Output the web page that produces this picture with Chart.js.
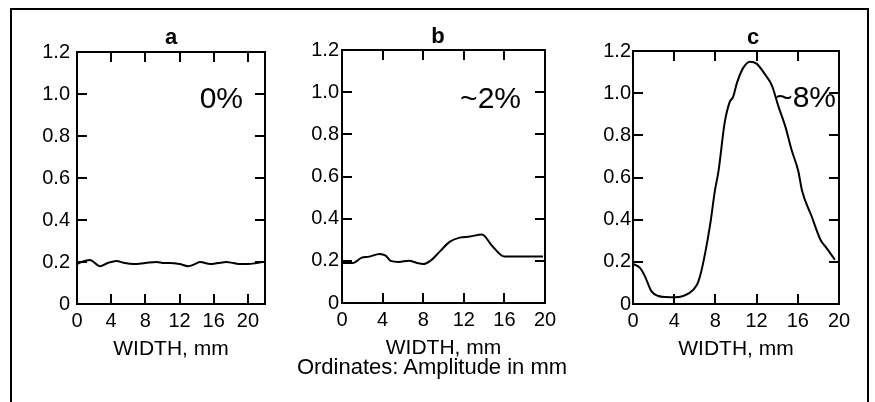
<!DOCTYPE html>
<html>
<head>
<meta charset="utf-8">
<script src="https://cdn.jsdelivr.net/npm/chart.js@4.4.1/dist/chart.umd.min.js"></script>
<style>
  html, body { margin: 0; padding: 0; background: #fff; }
  #wrap { position: relative; width: 875px; height: 402px; overflow: hidden; background: #fff; font-family: "Liberation Sans", Arial, sans-serif; color: #000; }
  canvas { position: absolute; left: 0; top: 0; }
  #frame { position: absolute; left: 10px; top: 8px; width: 855px; height: 420px; border: 2px solid #000; border-bottom: none; }
  .t { position: absolute; line-height: 1; white-space: nowrap; }
  .lbl { font-weight: bold; font-size: 22px; transform: translate(-50%, -50%); }
  .pct { font-size: 30px; transform: translate(-100%, -50%); }
</style>
</head>
<body>
<div id="wrap">
  <div id="frame"></div>
  <canvas id="ca" width="875" height="402"></canvas>
  <canvas id="cb" width="875" height="402"></canvas>
  <canvas id="cc" width="875" height="402"></canvas>
  <div class="t lbl" style="left:171px; top:37px;">a</div>
  <div class="t lbl" style="left:438px; top:36px;">b</div>
  <div class="t lbl" style="left:753px; top:37px;">c</div>
  <div class="t pct" style="left:243px; top:98px;">0%</div>
  <div class="t pct" style="left:521px; top:98px;">~2%</div>
  <div class="t pct" style="left:836px; top:97px;">~8%</div>
  <div class="t" style="left:432px; top:367px; font-size:22px; transform: translate(-50%, -50%);">Ordinates: Amplitude in mm</div>
</div>
<script>
// ---- data ----
const panelLabels = ['a', 'b', 'c'];
const percentLabels = ['0%', '~2%', '~8%'];
const xTitle = 'WIDTH, mm';
const yTickValues = [0, 0.2, 0.4, 0.6, 0.8, 1.0, 1.2];
const xTickValues = [0, 4, 8, 12, 16, 20];

// panel a (0%)
const aWidth = [0, 0.5, 1.5, 2.7, 3.6, 4.6, 5.6, 6.6, 8.0, 9.3, 10.2, 10.9, 12.0, 13.0, 13.8, 14.4, 15.6, 16.5, 17.5, 18.3, 19.1, 20.0, 21.0, 21.7];
const aAmp   = [0.19, 0.2, 0.21, 0.18, 0.195, 0.205, 0.195, 0.19, 0.195, 0.2, 0.195, 0.195, 0.19, 0.18, 0.19, 0.2, 0.19, 0.195, 0.2, 0.195, 0.19, 0.19, 0.195, 0.2];

// panel b (~2%)
const bWidth = [0, 1.1, 1.9, 2.7, 3.7, 4.3, 4.8, 5.6, 6.6, 7.4, 8.0, 8.7, 9.65, 10.6, 11.6, 12.6, 13.8, 14.8, 16.0, 17.8, 19.8];
const bAmp   = [0.19, 0.19, 0.214, 0.22, 0.233, 0.225, 0.2, 0.195, 0.2, 0.19, 0.185, 0.2, 0.245, 0.29, 0.31, 0.315, 0.325, 0.27, 0.22, 0.22, 0.22];

// panel c (~8%)
const cWidth = [0, 0.7, 1.17, 1.8, 2.46, 3.2, 4.1, 5.4, 6.2, 6.5, 7.0, 7.5, 7.96, 8.3, 8.9, 9.4, 9.7, 10.1, 10.7, 11.36, 12.0, 12.8, 13.5, 14.1, 14.8, 15.4, 16.05, 16.4, 17.35, 18.2, 18.8, 19.6];
const cAmp   = [0.19, 0.17, 0.13, 0.06, 0.038, 0.033, 0.032, 0.05, 0.09, 0.13, 0.24, 0.38, 0.54, 0.63, 0.86, 0.96, 0.98, 1.05, 1.12, 1.149, 1.14, 1.09, 1.035, 0.94, 0.84, 0.73, 0.63, 0.54, 0.415, 0.305, 0.265, 0.21];

// inward tick marks
const yMarkValues = [0.2, 0.4, 0.6, 0.8, 1.0];
const aXMarks = [4, 8, 12, 16, 20];
const bXMarks = [4, 8, 12, 16];
const cXMarks = [4, 8, 12, 16];

const boxPlugin = {
  id: 'box',
  afterDatasetsDraw(chart, args, opts) {
    const { ctx, chartArea: a } = chart;
    const x = chart.scales.x, y = chart.scales.y;
    const L = 10;
    ctx.save();
    ctx.strokeStyle = '#000';
    ctx.lineWidth = 2;
    ctx.strokeRect(a.left, a.top, a.right - a.left, a.bottom - a.top);
    ctx.beginPath();
    opts.yMarks.forEach(v => {
      const p = Math.round(y.getPixelForValue(v));
      ctx.moveTo(a.left, p); ctx.lineTo(a.left + L, p);
      ctx.moveTo(a.right, p); ctx.lineTo(a.right - L, p);
    });
    opts.xMarks.forEach(v => {
      const p = Math.round(x.getPixelForValue(v));
      ctx.moveTo(p, a.bottom); ctx.lineTo(p, a.bottom - L);
      ctx.moveTo(p, a.top); ctx.lineTo(p, a.top + L);
    });
    ctx.stroke();
    ctx.restore();
  }
};

const FONT = "'Liberation Sans', Arial, sans-serif";

function makePanel(id, xs, ys, xMax, area, xMarks, yLabelPad) {
  const YW = 60, XH = 62;
  const data = xs.map((v, i) => ({ x: v, y: ys[i] }));
  return new Chart(document.getElementById(id), {
    type: 'line',
    data: { datasets: [{ data, borderColor: '#000', borderWidth: 2, pointRadius: 0, cubicInterpolationMode: 'monotone', fill: false }] },
    options: {
      responsive: false,
      animation: false,
      events: [],
      layout: { padding: { left: area.left - YW, top: area.top, right: 875 - area.right, bottom: 402 - area.bottom - XH } },
      plugins: { legend: { display: false }, tooltip: { enabled: false }, box: { yMarks: yMarkValues, xMarks } },
      scales: {
        x: {
          type: 'linear', min: 0, max: xMax,
          afterFit: s => { s.height = XH; },
          afterBuildTicks: s => { s.ticks = xTickValues.map(v => ({ value: v })); },
          grid: { display: false, drawTicks: false },
          border: { display: false },
          ticks: { color: '#000', font: { family: FONT, size: 20 }, padding: 5, maxRotation: 0, autoSkip: false },
          title: { display: true, text: xTitle, color: '#000', font: { family: FONT, size: 21 }, padding: { top: 0, bottom: 4 } }
        },
        y: {
          type: 'linear', min: 0, max: 1.2,
          afterFit: s => { s.width = YW; },
          afterBuildTicks: s => { s.ticks = yTickValues.map(v => ({ value: v })); },
          grid: { display: false, drawTicks: false },
          border: { display: false },
          ticks: { color: '#000', font: { family: FONT, size: 20 }, padding: yLabelPad, autoSkip: false,
                   callback: v => (v === 0 ? '0' : Number(v).toFixed(1)) }
        }
      }
    },
    plugins: [boxPlugin]
  });
}

makePanel('ca', aWidth, aAmp, 22, { left: 77, right: 265, top: 52, bottom: 304 }, aXMarks, 7);
makePanel('cb', bWidth, bAmp, 20, { left: 342, right: 545, top: 50, bottom: 303 }, bXMarks, 3);
makePanel('cc', cWidth, cAmp, 20, { left: 633, right: 839, top: 51, bottom: 304 }, cXMarks, 2);
</script>
</body>
</html>
